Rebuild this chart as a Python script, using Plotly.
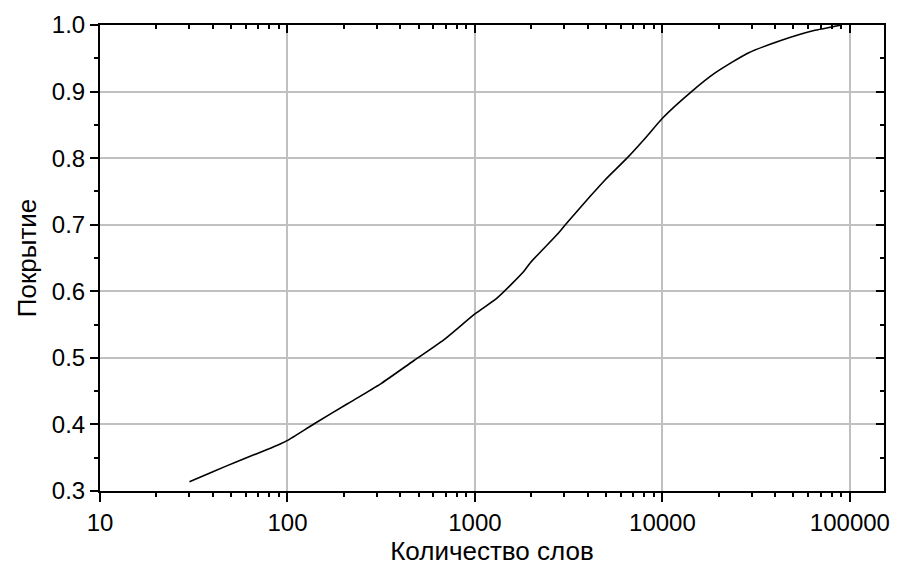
import plotly.graph_objects as go

# Data
words = [30, 40, 53.6, 77.4, 92, 100, 139, 209, 314, 473, 682, 1000, 1315, 1825,
         1976, 2800, 3100, 4130, 4970, 6470, 8270, 10000, 14300, 19100, 28700,
         43200, 65100, 79800, 90000]
coverage = [0.314, 0.329, 0.344, 0.362, 0.371, 0.376, 0.401, 0.431, 0.461, 0.496,
            0.527, 0.566, 0.590, 0.630, 0.643, 0.688, 0.703, 0.743, 0.768, 0.800,
            0.833, 0.860, 0.900, 0.928, 0.958, 0.977, 0.992, 0.997, 1.000]

x_ticks = [10, 100, 1000, 10000, 100000]
x_tick_text = ["10", "100", "1000", "10000", "100000"]
x_minor = [m * d for d in [10, 100, 1000, 10000, 100000] for m in range(2, 10)]
y_ticks = [0.3, 0.4, 0.5, 0.6, 0.7, 0.8, 0.9, 1.0]
y_minor = [0.35, 0.45, 0.55, 0.65, 0.75, 0.85, 0.95]

x_title = "Количество слов"
y_title = "Покрытие"

FONT = "Liberation Sans, Arial, sans-serif"
XR = [1, 5.182]
YR = [0.3, 1.0]

fig = go.Figure()
fig.add_trace(go.Scatter(x=words, y=coverage, mode="lines",
                         line=dict(color="black", width=1.6, shape="spline", smoothing=0.6),
                         showlegend=False, hoverinfo="skip"))
fig.add_trace(go.Scatter(x=[], y=[], xaxis="x2", yaxis="y2",
                         showlegend=False, hoverinfo="skip"))

fig.update_layout(
    width=900, height=573,
    margin=dict(l=92, r=24, t=17, b=90, autoexpand=False),
    plot_bgcolor="white", paper_bgcolor="white",
    font=dict(family=FONT, size=24, color="black"),
    xaxis=dict(
        type="log", range=XR, automargin=False,
        tickvals=x_ticks, ticktext=x_tick_text,
        ticks="outside", ticklen=9, tickwidth=2, tickcolor="black",
        showline=True, linecolor="black", linewidth=2, mirror=True,
        showgrid=True, gridcolor="#c0c0c0", gridwidth=1.5,
        zeroline=False,
        minor=dict(tickvals=x_minor, ticks="outside", ticklen=4,
                   tickwidth=1.5, tickcolor="black", showgrid=False),
        title=dict(text=x_title, font=dict(size=26), standoff=4),
        tickfont=dict(size=24),
    ),
    yaxis=dict(
        range=YR, automargin=False,
        tickvals=y_ticks, tickformat=".1f",
        ticks="outside", ticklen=8, tickwidth=2, tickcolor="black",
        showline=True, linecolor="black", linewidth=2, mirror=True,
        showgrid=True, gridcolor="#c0c0c0", gridwidth=1.5,
        zeroline=False,
        minor=dict(tickvals=y_minor, ticks="outside", ticklen=4,
                   tickwidth=1.5, tickcolor="black", showgrid=False),
        title=dict(text=y_title, font=dict(size=26), standoff=8),
        tickfont=dict(size=24),
    ),
    xaxis2=dict(
        type="log", range=XR, overlaying="x", side="top", anchor="y2",
        automargin=False,
        tickvals=x_ticks, showticklabels=False,
        ticks="inside", ticklen=8, tickwidth=2, tickcolor="black",
        showgrid=False, zeroline=False, showline=False,
        minor=dict(tickvals=x_minor, ticks="inside", ticklen=4,
                   tickwidth=1.5, tickcolor="black", showgrid=False),
    ),
    yaxis2=dict(
        range=YR, overlaying="y", side="right", anchor="x2",
        automargin=False,
        tickvals=y_ticks, showticklabels=False,
        ticks="inside", ticklen=8, tickwidth=2, tickcolor="black",
        showgrid=False, zeroline=False, showline=False,
        minor=dict(tickvals=y_minor, ticks="inside", ticklen=4,
                   tickwidth=1.5, tickcolor="black", showgrid=False),
    ),
)

fig.write_html("out.html")
